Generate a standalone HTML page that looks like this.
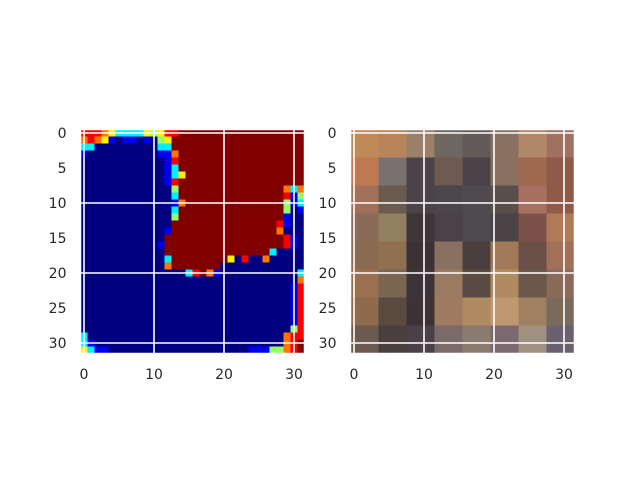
<!DOCTYPE html>
<html><head><meta charset="utf-8"><style>
body{margin:0;background:#fff;}
svg text{font-family:"DejaVu Sans","Liberation Sans",sans-serif;font-size:14px;fill:#262626;}
</style></head><body>
<svg id="chart" width="640" height="480" xmlns="http://www.w3.org/2000/svg">
<g id="left"></g>
<g id="right"></g>
</svg>
<script>
const leftRows = [
"rrroyccccygyrr##################",
"oroyb.bb.b.gy###################",
"cc.........cc###################",
"b..........bbo##################",
"............br##################",
"............bc##################",
"............bcy#################",
"............br##################",
".............g###############oco",
".............c###############rbg",
".............bo##############gbc",
".............c###############g.b",
".............g###############b..",
".............###############rb..",
"............b###############o...",
"............#################rb.",
"...........b#################rb.",
"............###############c....",
"............c########y.r..o.....",
"............o#######............",
"...............cr#ob...........c",
"...............................o",
"..............................br",
"..............................br",
"..............................br",
"..............................br",
"..............................br",
"..............................br",
"..............................gr",
"c............................orr",
"cb...........................or#",
"ycbb....................bbbggor#"
];
const levels = {'.':0.0,'b':0.11,'c':0.36,'g':0.52,'y':0.64,'o':0.76,'r':0.88,'#':1.0};
const rightColors = [
["#c08a58","#b8845a","#9a8068","#6e6660","#605a58","#8a7060","#b08a68","#a07060"],
["#c07850","#7a7070","#4a4448","#6e5a50","#4a4448","#8a7060","#a06a50","#905a4a"],
["#a07058","#6a5a50","#4a4448","#4a464c","#4e4a50","#5a4e4a","#a87060","#905a48"],
["#8a6a58","#908060","#3e3638","#4a4248","#4e4a50","#4a4446","#7a5048","#b07a58"],
["#8a6a50","#907050","#3a3234","#8a7060","#4a3e3e","#a07a58","#6a5048","#a07058"],
["#9a7050","#7a6650","#3c3438","#9a7a60","#5a4a44","#b08a60","#6a584a","#8a6a58"],
["#906a4a","#5a4a40","#3e3236","#a07a60","#b08a60","#c09870","#a08060","#7a6a5a"],
["#6a5a50","#4a3e3e","#4a4048","#7a6a6a","#8a7a70","#7a6a70","#a09080","#6a6070"]
];
const ticks = [0,5,10,15,20,25,30];
const xticks = [0,10,20,30];
const gridTicks = [0,10,20,30];

const NS="http://www.w3.org/2000/svg";
function mk(tag,attrs,parent){const e=document.createElementNS(NS,tag);for(const k in attrs)e.setAttribute(k,attrs[k]);parent.appendChild(e);return e;}
function jet(v){
  const c=x=>Math.max(0,Math.min(1,x));
  const r=c(1.5-Math.abs(4*v-3)), g=c(1.5-Math.abs(4*v-2)), b=c(1.5-Math.abs(4*v-1));
  return `rgb(${Math.round(r*255)},${Math.round(g*255)},${Math.round(b*255)})`;
}
const CELL=7, TOP=129.5;
function drawAxes(g,left,name){
  const sx=v=>left+CELL*(v+0.5), sy=v=>TOP+CELL*(v+0.5);
  for(const t of gridTicks){
    const lv=mk('line',{x1:sx(t),x2:sx(t),y1:TOP,y2:TOP+224,stroke:'#fff','stroke-width':1.6},g);
    
    
    const lh=mk('line',{x1:left,x2:left+224,y1:sy(t),y2:sy(t),stroke:'#fff','stroke-width':1.6},g);
    
    
  }
  mk('rect',{x:left,y:TOP,width:224,height:224,fill:'none',stroke:'#fff','stroke-width':1.5},g);
  for(const t of ticks){
    const tx=mk('text',{x:left-14,y:sy(t)+5,'text-anchor':'end'},g);
    tx.textContent=t;
    
    
  }
  for(const t of xticks){
    const tx=mk('text',{x:sx(t),y:379,'text-anchor':'middle'},g);
    tx.textContent=t;
    
    
  }
}
const L=document.getElementById('left');
leftRows.forEach((row,r)=>{
  for(let c=0;c<row.length;c++){
    const cell=mk('rect',{x:80.5+c*CELL,y:TOP+r*CELL,width:CELL+0.3,height:CELL+0.3,fill:jet(levels[row[c]])},L);
    
    
  }
});
drawAxes(L,80.5,'left');
const R=document.getElementById('right');
rightColors.forEach((row,r)=>{
  row.forEach((col,c)=>{
    const cell=mk('rect',{x:350.5+c*CELL*4,y:TOP+r*CELL*4,width:CELL*4+0.3,height:CELL*4+0.3,fill:col},R);
    
    
  });
});
drawAxes(R,350.5,'right');
</script>
</body></html>
